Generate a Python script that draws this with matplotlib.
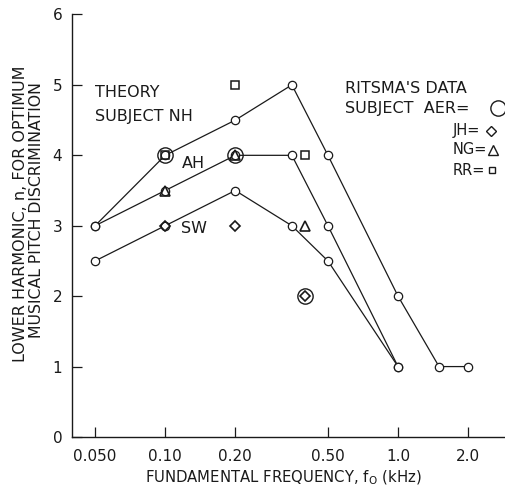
import matplotlib
matplotlib.use("Agg")
import matplotlib.pyplot as plt

plt.rcParams['font.family'] = ['DejaVu Sans']

# Theory curves (subject NH)
freq_top = [0.05, 0.10, 0.20, 0.35, 0.50, 1.0, 1.5, 2.0]
n_top = [3, 4, 4.5, 5, 4, 2, 1, 1]
freq_ah = [0.05, 0.10, 0.20, 0.35, 0.50, 1.0]
n_ah = [3, 3.5, 4, 4, 3, 1]
freq_sw = [0.05, 0.10, 0.20, 0.35, 0.50, 1.0]
n_sw = [2.5, 3, 3.5, 3, 2.5, 1]

# Ritsma's data
aer_f = [0.10, 0.20, 0.40]
aer_n = [4, 4, 2]
jh_f = [0.10, 0.20, 0.40]
jh_n = [3, 3, 2]
ng_f = [0.10, 0.20, 0.40]
ng_n = [3.5, 4, 3]
rr_f = [0.10, 0.20, 0.40]
rr_n = [4, 5, 4]

xticks = [0.05, 0.10, 0.20, 0.50, 1.0, 2.0]
xticklabels = ["0.050", "0.10", "0.20", "0.50", "1.0", "2.0"]
yticks = [0, 1, 2, 3, 4, 5, 6]

ink = "#1a1a1a"
fig = plt.figure(figsize=(5.05, 4.91), dpi=100)
ax = fig.add_axes([0.1426, 0.110, 0.8574, 0.8605])
ax.set_xscale('log')
ax.set_xlim(0.0398, 2.88)
ax.set_ylim(0, 6)

lw = 0.9
ms = 6
for f, n in [(freq_top, n_top), (freq_ah, n_ah), (freq_sw, n_sw)]:
    ax.plot(f, n, '-', color=ink, lw=lw, marker='o', ms=ms,
            mfc='white', mec=ink, mew=0.9, zorder=3)

ax.plot(aer_f, aer_n, 'o', ms=11, mfc='none', mec=ink, mew=1.0, zorder=4)
ax.plot(jh_f, jh_n, 'D', ms=5.5, mfc='none', mec=ink, mew=1.2, zorder=5)
ax.plot(ng_f, ng_n, '^', ms=7.5, mfc='none', mec=ink, mew=1.2, zorder=5)
ax.plot(rr_f, rr_n, 's', ms=5.5, mfc='none', mec=ink, mew=1.1, zorder=5)

for s in ['top', 'right']:
    ax.spines[s].set_visible(False)
for s in ['left', 'bottom']:
    ax.spines[s].set_linewidth(1.0)
    ax.spines[s].set_color(ink)

ax.set_xticks(xticks)
ax.set_xticklabels(xticklabels)
ax.xaxis.set_minor_locator(matplotlib.ticker.NullLocator())
ax.set_yticks(yticks)
ax.set_yticklabels([str(v) for v in yticks])
ax.tick_params(axis='both', direction='in', length=7, width=0.9, colors=ink,
               labelsize=11)
ax.tick_params(axis='y', pad=7)
ax.tick_params(axis='x', pad=9)

fs = 11.5
ax.text(0.05, 4.89, "THEORY", fontsize=fs, color=ink, va='center')
ax.text(0.05, 4.55, "SUBJECT NH", fontsize=fs, color=ink, va='center')
ax.text(0.118, 3.89, "AH", fontsize=fs, color=ink, va='center')
ax.text(0.117, 2.96, "SW", fontsize=fs, color=ink, va='center')

ax.text(0.591, 4.95, "RITSMA'S DATA", fontsize=fs, color=ink, va='center')
ax.text(0.591, 4.67, "SUBJECT  AER=", fontsize=fs, color=ink, va='center')
ax.text(1.72, 4.35, "JH=", fontsize=10.5, color=ink, va='center')
ax.text(1.72, 4.08, "NG=", fontsize=10.5, color=ink, va='center')
ax.text(1.72, 3.79, "RR=", fontsize=10.5, color=ink, va='center')
ax.plot([2.69], [4.67], 'o', ms=11, mfc='none', mec=ink, mew=1.0, clip_on=False)
ax.plot([2.51], [4.35], 'D', ms=5, mfc='none', mec=ink, mew=1.0, clip_on=False)
ax.plot([2.56], [4.08], '^', ms=6.5, mfc='none', mec=ink, mew=1.0, clip_on=False)
ax.plot([2.53], [3.79], 's', ms=5, mfc='none', mec=ink, mew=1.0, clip_on=False)

fig.text(0.561, 0.026, r"FUNDAMENTAL FREQUENCY, f$_\mathregular{O}$ (kHz)",
         ha='center', va='center', fontsize=10.7, color=ink)
fig.text(0.040, 0.565, "LOWER HARMONIC, n, FOR OPTIMUM", rotation=90,
         ha='center', va='center', fontsize=11.5, color=ink)
fig.text(0.073, 0.572, "MUSICAL PITCH DISCRIMINATION", rotation=90,
         ha='center', va='center', fontsize=11.3, color=ink)

fig.savefig("out.png", dpi=100)
